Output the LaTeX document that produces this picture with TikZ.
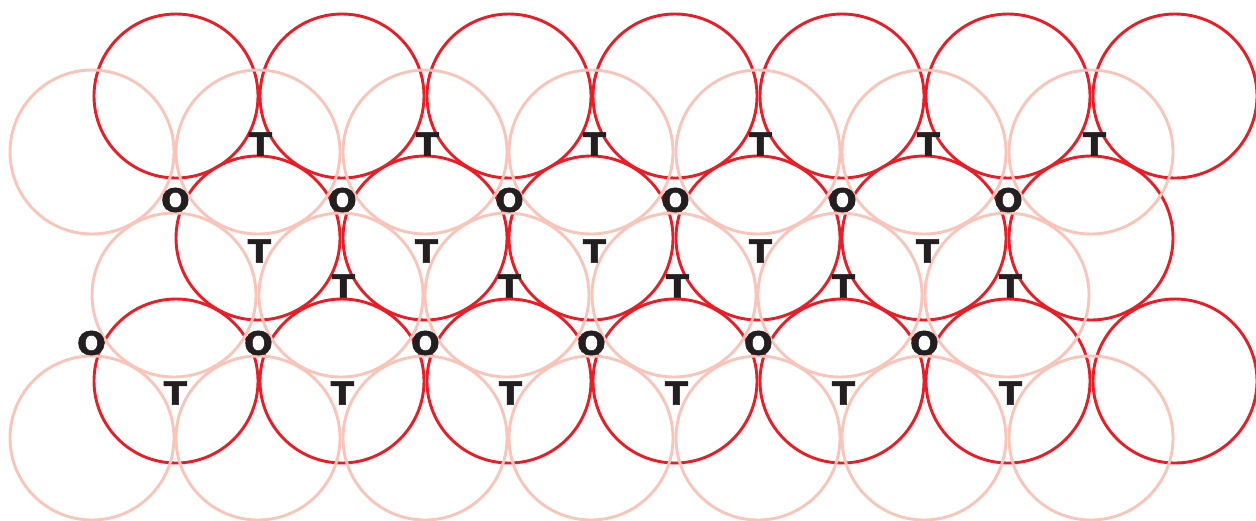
\documentclass[tikz,border=0pt]{standalone}
\usepackage{fontspec}
\setmainfont{DejaVu Sans}
\newfontfamily\labelfont[FakeStretch=1.06,FakeBold=1.6]{DejaVu Sans Bold}
\definecolor{redring}{HTML}{ED1C24}
\definecolor{palering}{HTML}{FBC4B8}
\definecolor{ink}{HTML}{231F20}
\tikzset{
  redcirc/.style={draw=redring,line width=2.9pt},
  palecirc/.style={draw=palering,line width=2.9pt},
  sitelabel/.style={text=ink,font=\labelfont\fontsize{32}{33}\selectfont,inner sep=0pt,anchor=center,xshift=-0.6pt}
}
\begin{document}
\begin{tikzpicture}[x=1pt,y=-1pt]
\useasboundingbox (0,0) rectangle (1256,520);
% red rings
\foreach \x in {176,342,509,675,842,1008,1175}{
  \draw[redcirc] (\x,96) circle[radius=82];
  \draw[redcirc] (\x,381) circle[radius=82];
}
\foreach \x in {258,425,591,758,924,1091}
  \draw[redcirc] (\x,238) circle[radius=82];
% pale rings
\foreach \x in {92,258,425,591,758,924,1091}{
  \draw[palecirc] (\x,152) circle[radius=82];
  \draw[palecirc] (\x,438) circle[radius=82];
}
\foreach \x in {174,341,507,674,840,1007}
  \draw[palecirc] (\x,295) circle[radius=82];
% labels
\foreach \x in {261,428,595,761,929,1095}
  \node[sitelabel] (ta\x) at (\x,144) {T};
\foreach \x in {176,343,510,676,843,1009}
  \node[sitelabel] (oa\x) at (\x,200) {O};
\foreach \x in {260,427,595,761,928}
  \node[sitelabel] (tb\x) at (\x,251) {T};
\foreach \x in {344,510,678,844,1011}
  \node[sitelabel] (tc\x) at (\x,286) {T};
\foreach \x in {92,259,426,592,759,925}
  \node[sitelabel] (ob\x) at (\x,343) {O};
\foreach \x in {176,343,511,677,844,1011}
  \node[sitelabel] (td\x) at (\x,393) {T};
\end{tikzpicture}
\end{document}
